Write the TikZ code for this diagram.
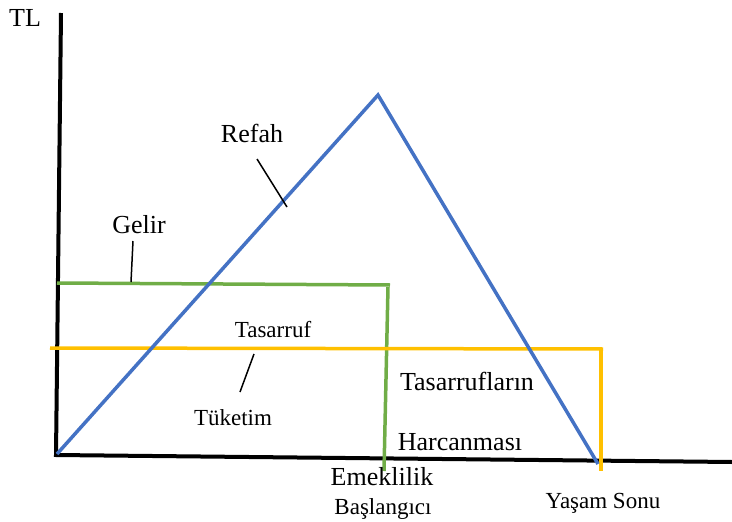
\documentclass[tikz,border=0pt]{standalone}
\usepackage{fontspec}
\setmainfont{Liberation Serif}
\definecolor{cblue}{HTML}{4472C4}
\definecolor{cgreen}{HTML}{70AD47}
\definecolor{cyellow}{HTML}{FFC000}
\begin{document}
\begin{tikzpicture}[x=1pt,y=-1pt,
  axis/.style={line width=4pt,black},
  wel/.style={line width=3.5pt,cblue,line join=miter},
  inc/.style={line width=3.5pt,cgreen},
  con/.style={line width=3.5pt,cyellow},
  lead/.style={line width=1.5pt,black},
  big/.style={font=\fontsize{26}{30}\selectfont,inner sep=0pt},
  small/.style={font=\fontsize{23}{27}\selectfont,inner sep=0pt}]
\useasboundingbox (0,0) rectangle (732,522);
% axes
\coordinate (ytop) at (61,13);
\coordinate (org) at (56,455);
\coordinate (xend) at (732,462);
\draw[axis] (ytop) -- (org) -- (xend);
% income (green)
\coordinate (g1) at (57,283);
\coordinate (g2) at (390,285);
\coordinate (g3) at (388,287);
\coordinate (g4) at (384,471);
\draw[inc] (g1) -- (g2);
\draw[inc] (g3) -- (g4);
% consumption (yellow)
\coordinate (y1) at (50,348);
\coordinate (y2) at (603,349);
\coordinate (y3) at (601,348);
\coordinate (y4) at (601,471);
\draw[con] (y1) -- (y2);
\draw[con] (y3) -- (y4);
% wealth (blue)
\coordinate (b1) at (57,454);
\coordinate (b2) at (378,95);
\coordinate (b3) at (598,464);
\draw[wel] (b1) -- (b2) -- (b3);
% labels
\node[big] (tl) at (25,18) {TL};
\node[big] (refah) at (252,133) {Refah};
\node[big] (gelir) at (139,225) {Gelir};
\node[small] (tasarruf) at (273,330) {Tasarruf};
\node[small] (tuketim) at (233,418) {Tüketim};
\node[big] (tasl) at (467,381) {Tasarrufların};
\node[big] (harc) at (460,442) {Harcanması};
\node[big] (emek) at (382,477) {Emeklilik};
\node[small] (basl) at (383,509) {Başlangıcı};
\node[small] (yasam) at (603,503) {Yaşam Sonu};
% leaders
\coordinate (r1) at (257,159);
\coordinate (r2) at (287,207);
\draw[lead] (r1) -- (r2);
\coordinate (gl1) at (133,241);
\coordinate (gl2) at (131,282);
\draw[lead] (gl1) -- (gl2);
\coordinate (t1) at (254,354);
\coordinate (t2) at (240,392);
\draw[lead] (t1) -- (t2);
\end{tikzpicture}
\end{document}
